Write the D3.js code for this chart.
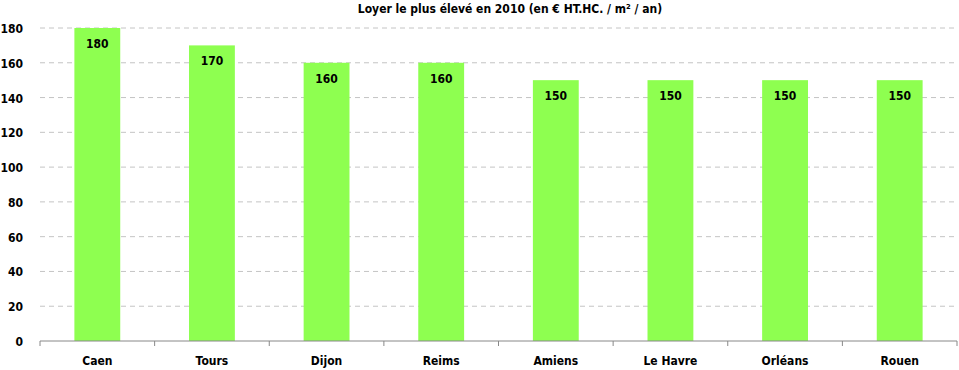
<!DOCTYPE html>
<html>
<head>
<meta charset="utf-8">
<script src="https://cdn.jsdelivr.net/npm/d3@7"></script>
<style>
  body { margin: 0; background: #fff; }
  text { font-family: "DejaVu Sans", sans-serif; font-stretch: condensed; font-weight: bold; fill: #000; }
</style>
</head>
<body>
<script>
// data
const cities = ["Caen", "Tours", "Dijon", "Reims", "Amiens", "Le Havre", "Orléans", "Rouen"];
const loyers = [180, 170, 160, 160, 150, 150, 150, 150];
const yTicks = [0, 20, 40, 60, 80, 100, 120, 140, 160, 180];
const title = "Loyer le plus élevé en 2010 (en € HT.HC.  / m² / an)";

const margin = {top: 28, right: 2, bottom: 29, left: 40},
    width = 959 - margin.left - margin.right,
    height = 370 - margin.top - margin.bottom;

const svg = d3.select("body").append("svg")
    .attr("width", 959)
    .attr("height", 370);

const g = svg.append("g")
    .attr("transform", "translate(" + margin.left + "," + margin.top + ")");

const x = d3.scaleBand().domain(cities).range([0, width]).paddingInner(0.6).paddingOuter(0.3);
const y = d3.scaleLinear().domain([0, 180]).range([height, 0]);

// gridlines
g.selectAll(".grid")
    .data(yTicks.filter(d => d > 0))
    .enter().append("line")
    .attr("x1", 0).attr("x2", width)
    .attr("y1", d => y(d)).attr("y2", d => y(d))
    .attr("stroke", "#c4c4c4")
    .attr("stroke-dasharray", "5,4");

// bars
g.selectAll(".bar")
    .data(cities)
    .enter().append("rect")
    .attr("x", d => x(d))
    .attr("y", (d, i) => y(loyers[i]))
    .attr("width", x.bandwidth())
    .attr("height", (d, i) => height - y(loyers[i]))
    .attr("fill", "#8eff50");

// value labels
g.selectAll(".val")
    .data(cities)
    .enter().append("text")
    .attr("x", d => x(d) + x.bandwidth() / 2)
    .attr("y", (d, i) => y(loyers[i]) + 20)
    .attr("text-anchor", "middle")
    .style("font-size", "12px")
    .text((d, i) => loyers[i]);

// x axis
const outer = d3.scaleBand().domain(cities).range([0, width]);
const xAxis = g.append("g").attr("transform", "translate(0," + height + ")");
xAxis.append("line").attr("x1", 0).attr("x2", width).attr("stroke", "#888");
xAxis.selectAll(".tk")
    .data(d3.range(cities.length + 1))
    .enter().append("line")
    .attr("x1", i => i * outer.bandwidth()).attr("x2", i => i * outer.bandwidth())
    .attr("y1", 0).attr("y2", 5)
    .attr("stroke", "#888");
xAxis.selectAll(".lbl")
    .data(cities)
    .enter().append("text")
    .attr("x", d => outer(d) + outer.bandwidth() / 2)
    .attr("y", 24)
    .attr("text-anchor", "middle")
    .style("font-size", "12px")
    .text(d => d);

// y labels
g.selectAll(".ylbl")
    .data(yTicks)
    .enter().append("text")
    .attr("x", -17)
    .attr("y", d => y(d) + 5)
    .attr("text-anchor", "end")
    .style("font-size", "12px")
    .text(d => d);

// title
svg.append("text")
    .attr("x", 510)
    .attr("y", 13)
    .attr("text-anchor", "middle")
    .style("font-size", "12px")
    .text(title);
</script>
</body>
</html>
